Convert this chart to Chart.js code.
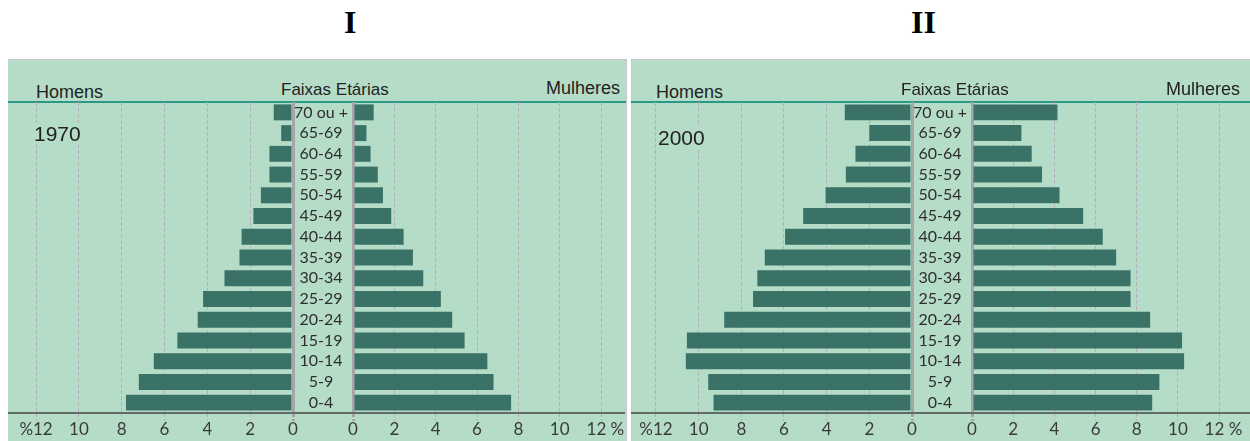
<!DOCTYPE html>
<html>
<head>
<meta charset="utf-8">
<script src="https://cdn.jsdelivr.net/npm/chart.js@4.4.1/dist/chart.umd.min.js"></script>
<style>
  body { margin: 0; background: #fff; width: 1250px; height: 441px; overflow: hidden; position: relative; }
  .title { position: absolute; top: 4px; font: bold 32px "Liberation Serif", "Times New Roman", serif; color: #000; }
  .panel { position: absolute; top: 59px; height: 382px; background: #b5dcc7; border-top: 1px solid #c4c4cc; }
  .rule { position: absolute; top: 101px; height: 2px; background: #2a9a86; }
  .txt { position: absolute; z-index: 2; font-family: "Liberation Sans", Arial, sans-serif; color: #222; white-space: nowrap; line-height: 1; }
  .year { background: #b5dcc7; }
  canvas { position: absolute; top: 102px; z-index: 1; }
</style>
</head>
<body>
<div class="title" style="left:344px">I</div>
<div class="title" style="left:911px">II</div>

<div class="panel" style="left:8px; width:618px; border-right:1px solid #c8c8cc"></div>
<div class="panel" style="left:631px; width:619px; border-left:1px solid #c8c8cc"></div>
<div class="rule" style="left:8px; width:618px"></div>
<div class="rule" style="left:631px; width:619px"></div>

<canvas id="men1970" width="292" height="339" style="left:8px"></canvas>
<canvas id="women1970" width="332" height="339" style="left:293px"></canvas>
<canvas id="men2000" width="288" height="339" style="left:631px"></canvas>
<canvas id="women2000" width="338" height="339" style="left:912px"></canvas>

<div class="txt" style="left:36px; top:83px; font-size:18px">Homens</div>
<div class="txt" style="left:281px; top:81px; font-size:17px">Faixas Etárias</div>
<div class="txt" style="left:546px; top:79px; font-size:18px">Mulheres</div>
<div class="txt year" style="left:34px; top:123px; font-size:21px">1970</div>

<div class="txt" style="left:656px; top:83px; font-size:18px">Homens</div>
<div class="txt" style="left:901px; top:81px; font-size:17px">Faixas Etárias</div>
<div class="txt" style="left:1166px; top:80px; font-size:18px">Mulheres</div>
<div class="txt year" style="left:658px; top:127px; font-size:21px">2000</div>

<script>
const faixas = ["70 ou +", "65-69", "60-64", "55-59", "50-54", "45-49", "40-44",
  "35-39", "30-34", "25-29", "20-24", "15-19", "10-14", "5-9", "0-4"];
const homens1970 = [0.9, 0.55, 1.1, 1.1, 1.5, 1.85, 2.4, 2.5, 3.2, 4.2, 4.45, 5.4, 6.5, 7.2, 7.8];
const mulheres1970 = [1.0, 0.65, 0.85, 1.2, 1.45, 1.85, 2.45, 2.9, 3.4, 4.25, 4.8, 5.4, 6.5, 6.8, 7.65];
const homens2000 = [3.15, 2.0, 2.65, 3.1, 4.05, 5.1, 5.95, 6.9, 7.25, 7.45, 8.8, 10.55, 10.6, 9.55, 9.3];
const mulheres2000 = [4.15, 2.4, 2.9, 3.4, 4.25, 5.4, 6.35, 7.0, 7.7, 7.7, 8.65, 10.2, 10.3, 9.1, 8.75];
const tickValues = [0, 2, 4, 6, 8, 10, 12];

const barColor = "#3b7268";
const gridColor = "#b4b0bf";
const zeroColor = "#a6a6aa";

// full-width axis line at the bottom of the bars
const axisLine = {
  id: "axisLine",
  afterDraw(chart) {
    const ctx = chart.ctx;
    const y = chart.chartArea.bottom;
    ctx.save();
    ctx.strokeStyle = "#5f6b65";
    ctx.lineWidth = 2;
    ctx.beginPath();
    ctx.moveTo(0, y);
    ctx.lineTo(chart.width, y);
    ctx.stroke();
    ctx.restore();
  },
};

function makeSide(id, values, max, isMen) {
  const isZero = (ctx) => ctx.tick && ctx.tick.value === 0;
  new Chart(document.getElementById(id).getContext("2d"), {
    type: "bar",
    data: {
      labels: faixas,
      datasets: [
        {
          data: values,
          backgroundColor: barColor,
          barPercentage: 0.77,
          categoryPercentage: 1.0,
        },
      ],
    },
    plugins: [axisLine],
    options: {
      responsive: false,
      animation: false,
      indexAxis: "y",
      layout: { padding: { left: 0, right: isMen ? 7 : 0, top: 0, bottom: 0 } },
      scales: {
        x: {
          type: "linear",
          reverse: isMen,
          min: 0,
          max: max,
          z: 1,
          afterBuildTicks: (scale) => {
            scale.ticks = tickValues.map((v) => ({ value: v }));
          },
          afterFit: (scale) => {
            scale.height = 28;
          },
          ticks: {
            autoSkip: false,
            maxRotation: 0,
            padding: -2,
            color: "#3a3a3a",
            font: { family: "Lato", size: 17 },
            callback: (v) => (v === 12 ? (isMen ? "%12" : "  12 %") : v),
          },
          grid: {
            color: (ctx) => (isZero(ctx) ? zeroColor : gridColor),
            lineWidth: (ctx) => (isZero(ctx) ? 3 : 1),
            drawTicks: true,
            tickLength: 8,
            tickColor: (ctx) => (isZero(ctx) ? zeroColor : gridColor),
            tickWidth: (ctx) => (isZero(ctx) ? 3 : 1),
            tickBorderDash: [4, 2],
          },
          border: {
            display: false,
            dash: (ctx) => (isZero(ctx) ? [] : [4, 2]),
          },
        },
        y: {
          display: !isMen,
          position: "left",
          afterFit: (scale) => {
            if (!isMen) scale.width = 60;
            scale.paddingTop = 0;
            scale.paddingBottom = 0;
          },
          grid: { display: false, drawTicks: false },
          border: { display: false },
          ticks: {
            autoSkip: false,
            crossAlign: "center",
            padding: 5,
            color: "#2e2e2e",
            font: { family: "Lato", size: 16 },
          },
        },
      },
      plugins: {
        legend: { display: false },
        tooltip: { enabled: false },
      },
    },
  });
}

makeSide("men1970", homens1970, 13.31, true);
makeSide("women1970", mulheres1970, 13.16, false);
makeSide("men2000", homens2000, 13.17, true);
makeSide("women2000", mulheres2000, 13.5, false);
</script>
</body>
</html>
